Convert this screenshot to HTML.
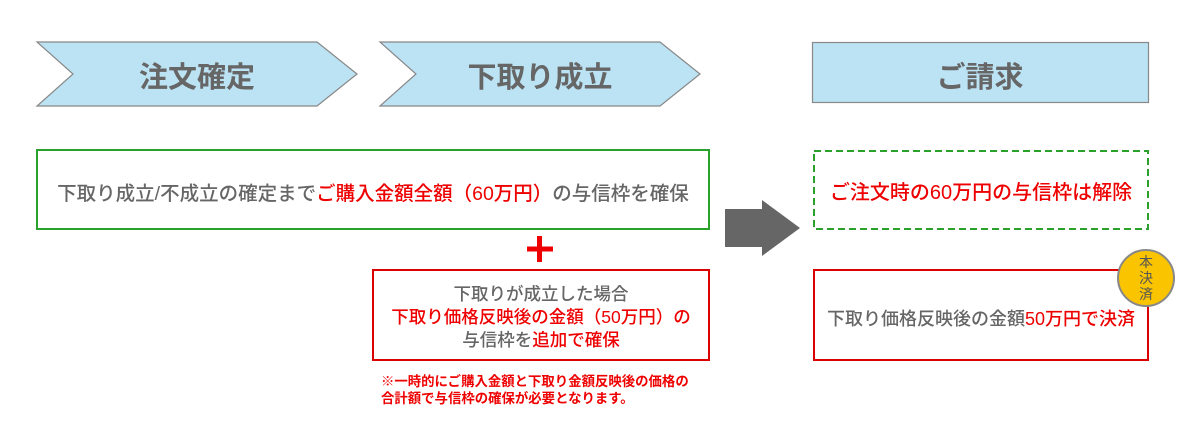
<!DOCTYPE html>
<html><head><meta charset="utf-8"><style>
body{margin:0;width:1200px;height:430px;background:#fff;position:relative;overflow:hidden;font-family:"Liberation Sans","Noto Sans CJK JP",sans-serif;}
.a{position:absolute;white-space:nowrap;}
.h{font-size:29px;font-weight:bold;color:#666;text-align:center;}
.t{font-size:17px;color:#666;text-align:center;font-weight:500;}
.r{color:#e00;}
</style></head><body>
<svg width="1200" height="430" style="position:absolute;left:0;top:0">
<polygon points="37,42 317,42 357,74 317,106 37,106 73,74" fill="#bce3f4" stroke="#888" stroke-width="1.2"/>
<polygon points="380,42 660,42 700,74 660,106 380,106 416,74" fill="#bce3f4" stroke="#888" stroke-width="1.2"/>
<rect x="812.5" y="42.5" width="336" height="60" fill="#bce3f4" stroke="#888" stroke-width="1.2"/>
<rect x="37" y="150" width="672" height="79" fill="none" stroke="#2aa12a" stroke-width="2"/>
<rect x="814" y="151" width="334" height="78" fill="none" stroke="#2aa12a" stroke-width="2" stroke-dasharray="7,4"/>
<rect x="373" y="270" width="336" height="90" fill="none" stroke="#d00" stroke-width="2"/>
<rect x="814" y="270" width="334" height="90" fill="none" stroke="#d00" stroke-width="2"/>
<rect x="537" y="236" width="5" height="26" fill="#e00"/>
<rect x="527" y="246.5" width="26" height="5" fill="#e00"/>
<polygon points="725,209 762,209 762,200 800,228 762,256 762,247 725,247" fill="#666"/>
<circle cx="1146" cy="278" r="28" fill="#fbc400" stroke="#888" stroke-width="2"/>
</svg>
<div class="a h" style="left:37px;top:54px;width:320px">注文確定</div>
<div class="a h" style="left:380px;top:54px;width:320px">下取り成立</div>
<div class="a h" style="left:812px;top:54px;width:336px">ご請求</div>
<div class="a t" style="left:37px;top:177px;width:672px;font-size:19.5px">下取り成立/不成立の確定まで<span class="r">ご購入金額全額（60万円）</span>の与信枠を確保</div>
<div class="a t r" style="left:814px;top:176px;width:334px;font-size:20px">ご注文時の60万円の与信枠は解除</div>
<div class="a t" style="left:373px;top:283px;width:336px;line-height:23px;font-size:17.5px">下取りが成立した場合<br><span class="r">下取り価格反映後の金額（50万円）の</span><br>与信枠を<span class="r">追加で確保</span></div>
<div class="a t" style="left:814px;top:305px;width:334px;font-size:18px">下取り価格反映後の金額<span class="r">50万円で決済</span></div>
<div class="a" style="left:381px;top:373px;font-size:13.4px;font-weight:bold;color:#e00;line-height:17px">※一時的にご購入金額と下取り金額反映後の価格の<br>合計額で与信枠の確保が必要となります。</div>
<div class="a" style="left:1137px;top:254px;width:18px;font-size:14px;line-height:16px;color:#555;white-space:normal;text-align:center">本決済</div>
</body></html>
